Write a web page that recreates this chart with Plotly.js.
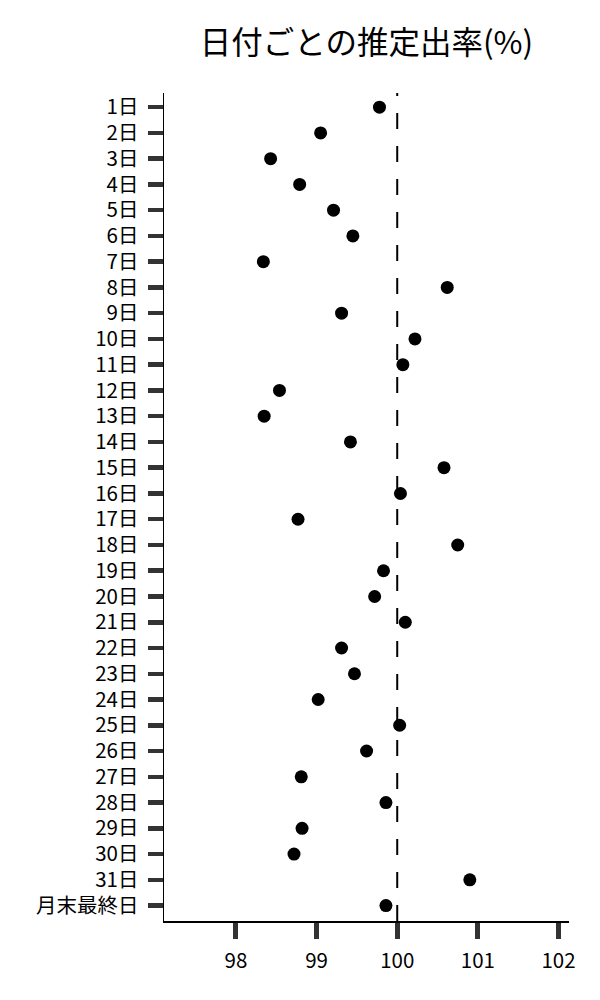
<!DOCTYPE html>
<html>
<head>
<meta charset="utf-8">
<script src="https://cdn.plot.ly/plotly-3.0.1.min.js"></script>
<style>
  body { margin: 0; background: #fff; }
  #chart { width: 600px; height: 1000px; }
</style>
</head>
<body>
<div id="chart"></div>
<script>
// 日付ラベル (上から順に)
var days = ['1日', '2日', '3日', '4日', '5日', '6日', '7日', '8日', '9日', '10日',
    '11日', '12日', '13日', '14日', '15日', '16日', '17日', '18日', '19日', '20日',
    '21日', '22日', '23日', '24日', '25日', '26日', '27日', '28日', '29日', '30日',
    '31日', '月末最終日'];

// 推定出率(%)
var rates = [99.78, 99.05, 98.43, 98.79, 99.21, 99.45, 98.34, 100.62, 99.31, 100.22,
    100.07, 98.54, 98.35, 99.42, 100.58, 100.04, 98.77, 100.75, 99.83, 99.72,
    100.10, 99.31, 99.47, 99.02, 100.03, 99.62, 98.81, 99.86, 98.82, 98.72,
    100.90, 99.86];

var xTicks = [98, 99, 100, 101, 102];
var refValue = 100;

var trace = {
    x: rates,
    y: days,
    type: 'scatter',
    mode: 'markers',
    marker: {
        color: '#000000',
        size: 13
    },
    hoverinfo: 'x+y'
};

var layout = {
    width: 600,
    height: 1000,
    font: {
        family: '"Noto Sans CJK JP", "Noto Sans", sans-serif',
        size: 20.5,
        color: '#000000'
    },
    title: {
        text: '日付ごとの推定出率(%)',
        font: { size: 31.5 },
        x: 0.5,
        xref: 'paper',
        xanchor: 'center',
        y: 0.957,
        yref: 'container',
        yanchor: 'middle'
    },
    showlegend: false,
    plot_bgcolor: '#ffffff',
    paper_bgcolor: '#ffffff',
    margin: { l: 164, r: 31, t: 93, b: 79 },
    xaxis: {
        range: [97.108, 102.13],
        tickvals: xTicks,
        ticks: 'outside',
        ticklen: 16,
        tickwidth: 5,
        tickcolor: '#333333',
        showline: true,
        linecolor: '#000000',
        linewidth: 1.5,
        showgrid: false,
        zeroline: false,
        ticklabelstandoff: 5
    },
    yaxis: {
        type: 'category',
        categoryorder: 'array',
        categoryarray: days,
        range: [31.6, -0.55],
        ticks: 'outside',
        ticklen: 15,
        tickwidth: 4.5,
        tickcolor: '#333333',
        showline: true,
        linecolor: '#000000',
        linewidth: 1.5,
        showgrid: false,
        zeroline: false,
        ticklabelstandoff: 5
    },
    shapes: [{
        type: 'line',
        xref: 'x',
        yref: 'paper',
        x0: refValue,
        x1: refValue,
        y0: 0,
        y1: 1,
        line: { color: '#000000', width: 2, dash: '16px,17px' },
        layer: 'below'
    }]
};

Plotly.newPlot('chart', [trace], layout, { displayModeBar: false, staticPlot: true });
</script>
</body>
</html>
